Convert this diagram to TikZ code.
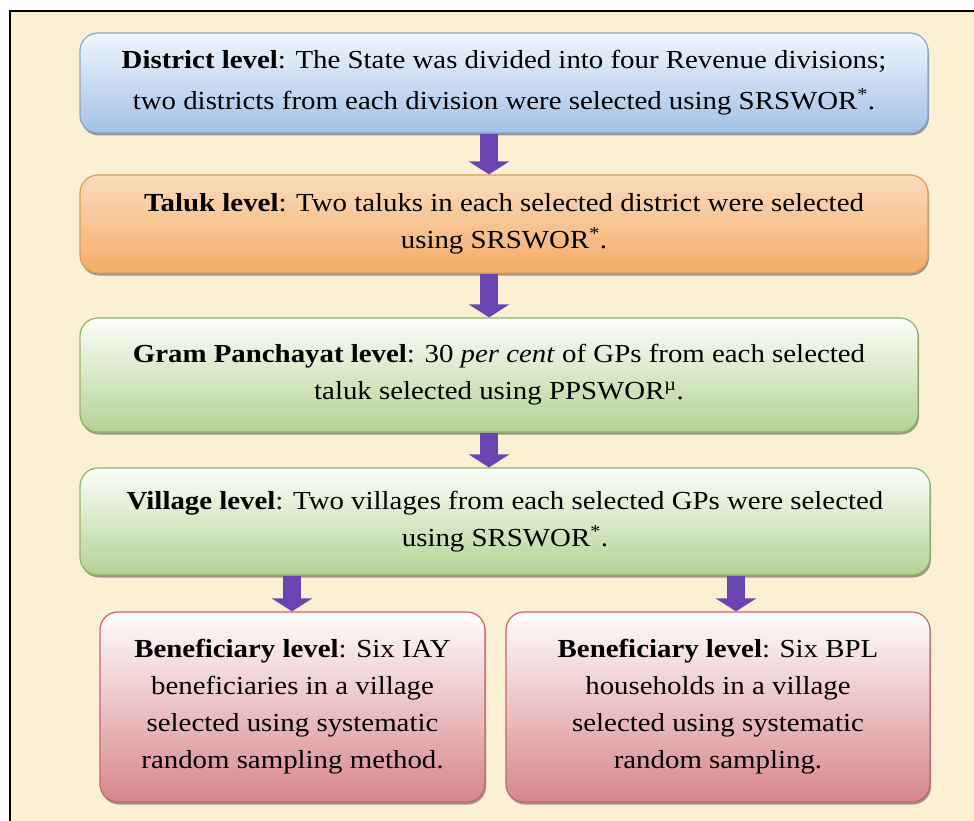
\documentclass[tikz,border=0pt]{standalone}
\usepackage{fontspec}
\setmainfont{Liberation Serif}[FakeStretch=1.11]
\usetikzlibrary{arrows.meta,shadows}
\definecolor{bgcream}{HTML}{FBF0D4}
\definecolor{bluetop}{HTML}{F0F6FD}
\definecolor{bluebot}{HTML}{A2C1E7}
\definecolor{blueline}{HTML}{86A6CE}
\definecolor{orgtop}{HTML}{FADCBD}
\definecolor{orgbot}{HTML}{F5AC68}
\definecolor{orgline}{HTML}{E39A55}
\definecolor{grntop}{HTML}{FDFEFB}
\definecolor{grnbot}{HTML}{B3D293}
\definecolor{grnline}{HTML}{8DB566}
\definecolor{redtop}{HTML}{FFFDFD}
\definecolor{redbot}{HTML}{D8868B}
\definecolor{redline}{HTML}{C46676}
\definecolor{arrowpurple}{HTML}{6A44B0}
\tikzset{
  levelbox/.style={rounded corners=18pt, draw, line width=1.2pt, align=center,
    inner sep=0pt, font=\fontsize{26}{37}\selectfont,
    drop shadow={shadow xshift=1pt, shadow yshift=-2.5pt, opacity=0.55, fill=black!70}},
  bluebox/.style={levelbox, draw=blueline, top color=bluetop, bottom color=bluebot,
    font=\fontsize{26}{41}\selectfont},
  orangebox/.style={levelbox, draw=orgline, top color=orgtop, bottom color=orgbot},
  greenbox/.style={levelbox, draw=grnline, top color=grntop, bottom color=grnbot},
  redbox/.style={levelbox, draw=redline, top color=redtop, bottom color=redbot},
  blockarrow/.style={draw=arrowpurple, line width=18pt,
    -{Triangle[width=40pt,length=13pt,fill=arrowpurple]}, shorten <=0.5pt}
}
\begin{document}
\begin{tikzpicture}[x=1pt,y=-1pt]
\useasboundingbox (0,0) rectangle (974,821);
\clip (0,0) rectangle (974,821);
\fill[white] (0,0) rectangle (974,821);
\draw[fill=bgcream, line width=1.5pt] (10,11) rectangle (990,840);

\node[bluebox, minimum width=848pt, minimum height=100pt] (d) at (504,83)
  {\textbf{District level}: The State was divided into four Revenue divisions;\\
   two districts from each division were selected using SRSWOR\textsuperscript{*}.};
\node[orangebox, minimum width=848pt, minimum height=98pt] (t) at (504,224)
  {\textbf{Taluk level}: Two taluks in each selected district were selected\\
   using SRSWOR\textsuperscript{*}.};
\node[greenbox, minimum width=838pt, minimum height=114pt] (g) at (499,375)
  {\textbf{Gram Panchayat level}: 30 \textit{per cent} of GPs from each selected\\
   taluk selected using PPSWOR\textsuperscript{µ}.};
\node[greenbox, minimum width=850pt, minimum height=107pt] (v) at (505,521.5)
  {\textbf{Village level}: Two villages from each selected GPs were selected\\
   using SRSWOR\textsuperscript{*}.};
\node[redbox, minimum width=385pt, minimum height=190pt] (bl) at (292.5,707)
  {\textbf{Beneficiary level}: Six IAY\\ beneficiaries in a village\\
   selected using systematic\\ random sampling method.};
\node[redbox, minimum width=424pt, minimum height=190pt] (br) at (718,707)
  {\textbf{Beneficiary level}: Six BPL\\ households in a village\\
   selected using systematic\\ random sampling.};

\coordinate (ax) at (489,0);
\coordinate (alx) at (292,0);
\coordinate (arx) at (736,0);
\draw[blockarrow] (d.south -| ax) -- (t.north -| ax);
\draw[blockarrow] (t.south -| ax) -- (g.north -| ax);
\draw[blockarrow] (g.south -| ax) -- (v.north -| ax);
\draw[blockarrow] (v.south -| alx) -- (bl.north -| alx);
\draw[blockarrow] (v.south -| arx) -- (br.north -| arx);
\end{tikzpicture}
\end{document}
